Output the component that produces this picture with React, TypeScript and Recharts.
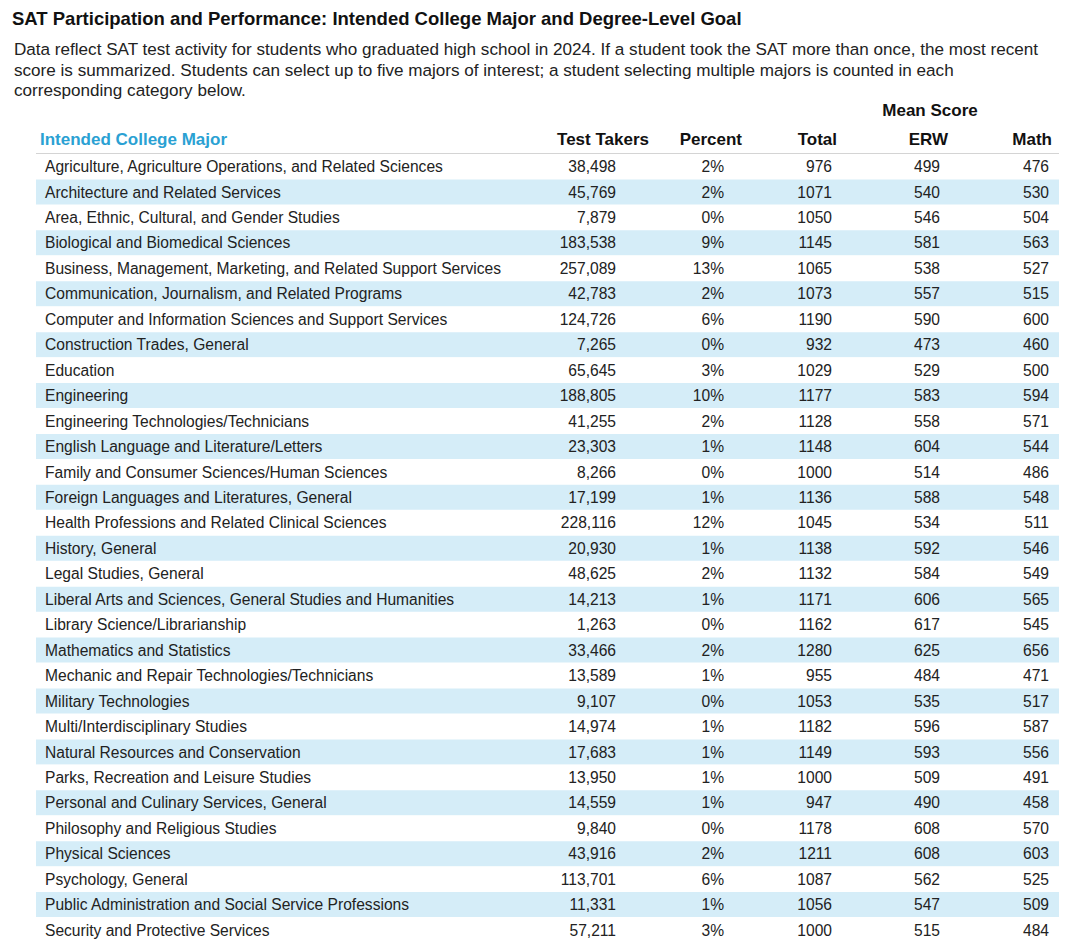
import React from "react";
import { BarChart, Bar, XAxis, YAxis, Cell, LabelList, Customized } from "recharts";

const TITLE = "SAT Participation and Performance: Intended College Major and Degree-Level Goal";
const DESCRIPTION_LINES = [
  "Data reflect SAT test activity for students who graduated high school in 2024. If a student took the SAT more than once, the most recent",
  "score is summarized. Students can select up to five majors of interest; a student selecting multiple majors is counted in each",
  "corresponding category below.",
];
const GROUP_HEADER = "Mean Score";
const FIRST_HEADER = "Intended College Major";
const COLUMN_HEADERS = ["Test Takers", "Percent", "Total", "ERW", "Math"];

const majors = [
  "Agriculture, Agriculture Operations, and Related Sciences",
  "Architecture and Related Services",
  "Area, Ethnic, Cultural, and Gender Studies",
  "Biological and Biomedical Sciences",
  "Business, Management, Marketing, and Related Support Services",
  "Communication, Journalism, and Related Programs",
  "Computer and Information Sciences and Support Services",
  "Construction Trades, General",
  "Education",
  "Engineering",
  "Engineering Technologies/Technicians",
  "English Language and Literature/Letters",
  "Family and Consumer Sciences/Human Sciences",
  "Foreign Languages and Literatures, General",
  "Health Professions and Related Clinical Sciences",
  "History, General",
  "Legal Studies, General",
  "Liberal Arts and Sciences, General Studies and Humanities",
  "Library Science/Librarianship",
  "Mathematics and Statistics",
  "Mechanic and Repair Technologies/Technicians",
  "Military Technologies",
  "Multi/Interdisciplinary Studies",
  "Natural Resources and Conservation",
  "Parks, Recreation and Leisure Studies",
  "Personal and Culinary Services, General",
  "Philosophy and Religious Studies",
  "Physical Sciences",
  "Psychology, General",
  "Public Administration and Social Service Professions",
  "Security and Protective Services",
];

const testTakers = [
  38498, 45769, 7879, 183538, 257089, 42783, 124726, 7265, 65645, 188805, 41255, 23303, 8266, 17199,
  228116, 20930, 48625, 14213, 1263, 33466, 13589, 9107, 14974, 17683, 13950, 14559, 9840, 43916,
  113701, 11331, 57211,
];

const percents = [
  2, 2, 0, 9, 13, 2, 6, 0, 3, 10, 2, 1, 0, 1, 12, 1, 2, 1, 0, 2, 1, 0, 1, 1, 1, 1, 0, 2, 6, 1, 3,
];

const totals = [
  976, 1071, 1050, 1145, 1065, 1073, 1190, 932, 1029, 1177, 1128, 1148, 1000, 1136, 1045, 1138, 1132,
  1171, 1162, 1280, 955, 1053, 1182, 1149, 1000, 947, 1178, 1211, 1087, 1056, 1000,
];

const erwScores = [
  499, 540, 546, 581, 538, 557, 590, 473, 529, 583, 558, 604, 514, 588, 534, 592, 584, 606, 617, 625,
  484, 535, 596, 593, 509, 490, 608, 608, 562, 547, 515,
];

const mathScores = [
  476, 530, 504, 563, 527, 515, 600, 460, 500, 594, 571, 544, 486, 548, 511, 546, 549, 565, 545, 656,
  471, 517, 587, 556, 491, 458, 570, 603, 525, 509, 484,
];

const data = majors.map((major, i) => ({
  major,
  band: 1,
  takers: testTakers[i],
  pct: percents[i],
  total: totals[i],
  erw: erwScores[i],
  math: mathScores[i],
}));

const FONT = "'Liberation Sans', Arial, Helvetica, sans-serif";
const STRIPE = "#d5edf8";
const TEXT = "#222222";
const BLUE = "#2aa1d3";
const ROW_FONT = 15.6;

// column right edges (layout)
const COLS = [
  { key: "takers", right: 616, fmt: (v: number) => v.toLocaleString("en-US") },
  { key: "pct", right: 724, fmt: (v: number) => `${v}%` },
  { key: "total", right: 832, fmt: (v: number) => String(v) },
  { key: "erw", right: 940, fmt: (v: number) => String(v) },
  { key: "math", right: 1049, fmt: (v: number) => String(v) },
];
const HEADER_RIGHTS = [649, 742, 837, 948, 1052];

const makeCell = (right: number, fmt: (v: number) => string) => (props: any) => {
  const { y, height, value } = props;
  return (
    <text
      x={right}
      y={Number(y) + Number(height) / 2}
      dy="0.36em"
      textAnchor="end"
      fontFamily={FONT}
      fontSize={ROW_FONT}
      fill={TEXT}
    >
      {fmt(Number(value))}
    </text>
  );
};

const majorCell = (props: any) => {
  const { x, y, height, value } = props;
  return (
    <text
      x={Number(x) + 9}
      y={Number(y) + Number(height) / 2}
      dy="0.36em"
      textAnchor="start"
      fontFamily={FONT}
      fontSize={ROW_FONT}
      fill={TEXT}
    >
      {value}
    </text>
  );
};

const Header = () => (
  <g>
    <text x={930} y={110} dy="0.36em" textAnchor="middle" fontFamily={FONT} fontSize={17} fontWeight="bold" fill="#111">
      {GROUP_HEADER}
    </text>
    <text x={40} y={139} dy="0.36em" textAnchor="start" fontFamily={FONT} fontSize={17} fontWeight="bold" fill={BLUE}>
      {FIRST_HEADER}
    </text>
    {COLUMN_HEADERS.map((h, i) => (
      <text
        key={h}
        x={HEADER_RIGHTS[i]}
        y={139}
        dy="0.36em"
        textAnchor="end"
        fontFamily={FONT}
        fontSize={17}
        fontWeight="bold"
        fill="#111"
      >
        {h}
      </text>
    ))}
    <line x1={36} x2={1059} y1={154} y2={154} stroke="#d4d4d4" strokeWidth={2} />
  </g>
);

export default function App() {
  return (
    <div
      style={{
        position: "absolute",
        top: 0,
        left: 0,
        width: 1080,
        height: 939,
        overflow: "hidden",
        background: "#ffffff",
      }}
    >
      <div
        style={{
          position: "absolute",
          left: 12,
          top: 8,
          fontFamily: FONT,
          fontWeight: "bold",
          fontSize: 18.5,
          lineHeight: "22px",
          color: "#111",
          whiteSpace: "nowrap",
          zIndex: 2,
        }}
      >
        {TITLE}
      </div>
      <div
        style={{
          position: "absolute",
          left: 14,
          top: 40,
          fontFamily: FONT,
          fontSize: 17.1,
          lineHeight: "20.5px",
          color: "#222",
          whiteSpace: "nowrap",
          zIndex: 2,
        }}
      >
        {DESCRIPTION_LINES.map((l) => (
          <div key={l}>{l}</div>
        ))}
      </div>
      <div style={{ position: "absolute", top: 0, left: 0 }}>
        <BarChart
          width={1080}
          height={943}
          data={data}
          layout="vertical"
          margin={{ top: 154, right: 21, bottom: 0, left: 36 }}
          barCategoryGap={0}
        >
          <XAxis type="number" domain={[0, 1]} hide />
          <YAxis type="category" dataKey="major" width={0} hide />
          <Bar dataKey="band" isAnimationActive={false}>
            {data.map((_, i) => (
              <Cell key={i} fill={i % 2 === 1 ? STRIPE : "#ffffff"} />
            ))}
            <LabelList dataKey="major" content={majorCell} />
            {COLS.map((c) => (
              <LabelList key={c.key} dataKey={c.key} content={makeCell(c.right, c.fmt)} />
            ))}
          </Bar>
          <Customized component={Header} />
        </BarChart>
      </div>
    </div>
  );
}
